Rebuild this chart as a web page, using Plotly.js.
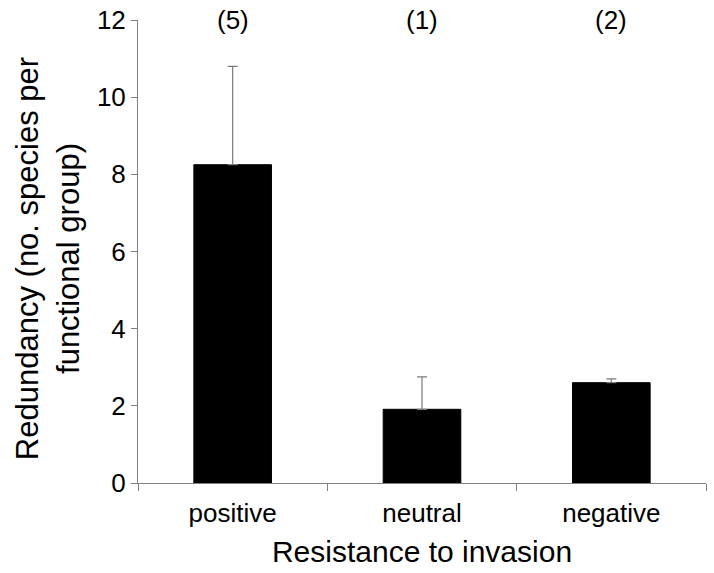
<!DOCTYPE html>
<html>
<head>
<meta charset="utf-8">
<script src="https://cdn.plot.ly/plotly-3.0.1.min.js"></script>
<style>html,body{margin:0;padding:0;background:#fff;}#chart{width:714px;height:573px;}</style>
</head>
<body>
<div id="chart"></div>
<script>
const categories = ["positive", "neutral", "negative"];
const redundancy = [8.25, 1.91, 2.6];
const errorUp = [2.55, 0.84, 0.10];
const sampleCounts = ["(5)", "(1)", "(2)"];
const yTitle = "Redundancy (no. species per<br>functional group)";
const xTitle = "Resistance to invasion";

const font = "Liberation Sans, Arial, sans-serif";

const trace = {
  type: "bar",
  x: categories,
  y: redundancy,
  marker: {color: "#000000", line: {color: "#000000", width: 1}},
  error_y: {type: "data", symmetric: false, array: errorUp, arrayminus: [0, 0, 0],
            color: "#7a7a7a", thickness: 1.2, width: 5},
  hoverinfo: "none"
};

const annotations = categories.map((c, i) => ({
  x: c, y: 1, xref: "x", yref: "paper", yanchor: "middle",
  text: sampleCounts[i], showarrow: false,
  font: {family: font, size: 26, color: "#000"}
}));
annotations.push({
  xref: "paper", yref: "paper", x: -0.159, y: 0.485,
  xanchor: "center", yanchor: "middle", textangle: -90,
  text: yTitle, showarrow: false,
  font: {family: font, size: 31, color: "#000"}
});

const layout = {
  width: 714, height: 573,
  margin: {l: 138, r: 8, t: 20, b: 90},
  paper_bgcolor: "#fff", plot_bgcolor: "#fff",
  showlegend: false,
  bargap: 0.59,
  font: {family: font, color: "#000"},
  xaxis: {
    type: "category",
    showline: true, linecolor: "#808080", linewidth: 1,
    ticks: "outside", tickson: "boundaries", ticklen: 7, tickcolor: "#808080",
    tickfont: {family: font, size: 26, color: "#000"},
    ticklabelstandoff: 7,
    showgrid: false, zeroline: false,
    title: {text: xTitle, font: {family: font, size: 30, color: "#000"}, standoff: 13}
  },
  yaxis: {
    range: [0, 12], dtick: 2,
    showline: true, linecolor: "#808080", linewidth: 1,
    ticks: "outside", ticklen: 6, tickcolor: "#808080",
    tickfont: {family: font, size: 26, color: "#000"},
    showgrid: false, zeroline: false
  },
  annotations: annotations
};

Plotly.newPlot("chart", [trace], layout, {displayModeBar: false, staticPlot: true});
</script>
</body>
</html>
